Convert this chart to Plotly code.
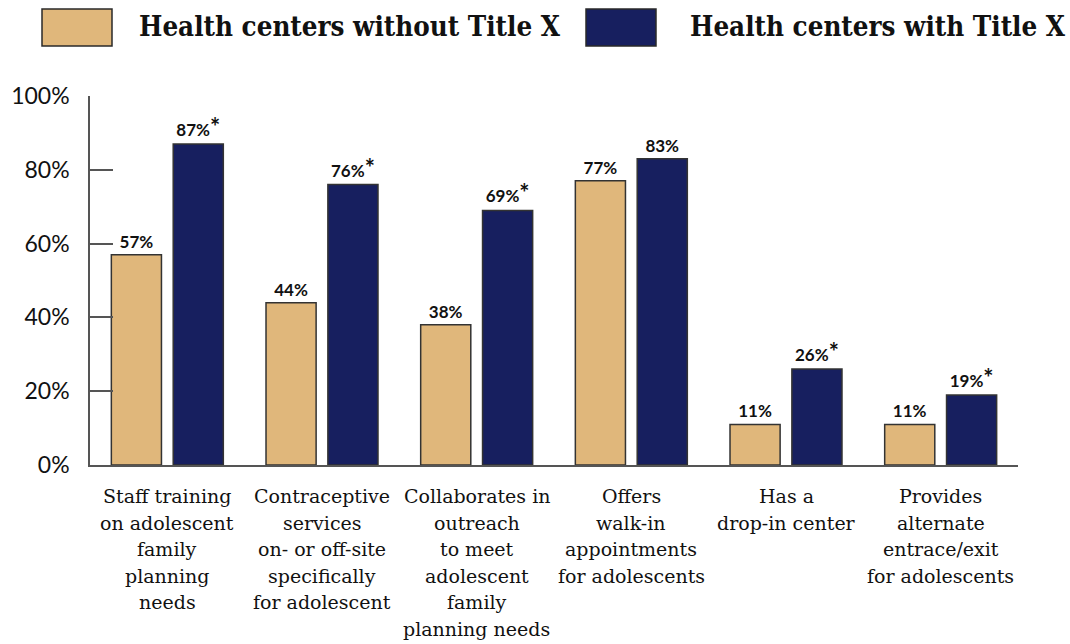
import plotly.graph_objects as go

# Data
categories = [
    "Staff training<br>on adolescent<br>family<br>planning<br>needs",
    "Contraceptive<br>services<br>on- or off-site<br>specifically<br>for adolescent",
    "Collaborates in<br>outreach<br>to meet<br>adolescent<br>family<br>planning needs",
    "Offers<br>walk-in<br>appointments<br>for adolescents",
    "Has a<br>drop-in center",
    "Provides<br>alternate<br>entrace/exit<br>for adolescents",
]
without_title_x = [57, 44, 38, 77, 11, 11]
with_title_x = [87, 76, 69, 83, 26, 19]
significant = [True, True, True, False, True, True]
series_names = ["Health centers without Title X", "Health centers with Title X"]
y_ticks = [0, 20, 40, 60, 80, 100]
y_tick_labels = ["0%", "20%", "40%", "60%", "80%", "100%"]

TAN = "#E0B77B"
NAVY = "#171F5F"
OUTLINE = "#333333"

W, H = 1070, 644
M_L, M_R, M_T, M_B = 90, 52, 96, 179
PW, PH = W - M_L - M_R, H - M_T - M_B


def px_x(x):
    return (x - M_L) / PW


def px_y(y):
    return (H - M_B - y) / PH


# significance marker: an enlarged asterisk after the value
STAR = "<span style='font-size:24px'>*</span>"


def label(v, star):
    return f"{v}%{STAR}" if star else f"{v}%"


label_font = dict(family="Lato", size=17, color="#111111", weight=700)

fig = go.Figure()
fig.add_trace(go.Bar(
    x=categories, y=without_title_x, name=series_names[0],
    marker=dict(color=TAN, line=dict(color=OUTLINE, width=1.5)),
    text=[label(v, False) for v in without_title_x],
    textposition="outside", textfont=label_font, cliponaxis=False,
))
fig.add_trace(go.Bar(
    x=categories, y=with_title_x, name=series_names[1],
    marker=dict(color=NAVY, line=dict(color=OUTLINE, width=1.5)),
    text=[label(v, s) for v, s in zip(with_title_x, significant)],
    textposition="outside", textfont=label_font, cliponaxis=False,
))

shapes = []
annotations = []

# Legend drawn as swatches and text above the plot
legend_items = [
    (42, 112, TAN, 137, series_names[0]),
    (586, 656, NAVY, 688, series_names[1]),
]
for x0, x1, col, tx, name in legend_items:
    shapes.append(dict(
        type="rect", xref="paper", yref="paper",
        x0=px_x(x0), x1=px_x(x1), y0=px_y(46), y1=px_y(9),
        fillcolor=col, line=dict(color="#2a2a2a", width=1.5),
    ))
    annotations.append(dict(
        xref="paper", yref="paper", x=px_x(tx), y=px_y(26),
        xanchor="left", yanchor="middle", showarrow=False,
        text=name,
        font=dict(family="DejaVu Serif Condensed", size=27.5, color="#111111",
                  weight="bold"),
    ))

# Category labels, one line per annotation for tighter line spacing
LINE_TOP, LINE_STEP = 496, 26.6
for cat in categories:
    for i, line in enumerate(cat.split("<br>")):
        annotations.append(dict(
            x=cat, xref="x", yref="paper", y=px_y(LINE_TOP + i * LINE_STEP),
            xanchor="center", yanchor="middle", showarrow=False,
            text=line,
            font=dict(family="DejaVu Serif", size=19, color="#111111"),
        ))

fig.update_layout(
    width=W, height=H,
    margin=dict(l=M_L, r=M_R, t=M_T, b=M_B),
    paper_bgcolor="white", plot_bgcolor="white",
    barmode="group", bargap=0.2, bargroupgap=0.19,
    showlegend=False,
    shapes=shapes, annotations=annotations,
)
fig.update_xaxes(
    range=[-0.5, 5.5], showline=True, linecolor="#555555", linewidth=1.5,
    ticks="", showgrid=False, zeroline=False, showticklabels=False,
)
fig.update_yaxes(
    range=[0, 100], tickvals=y_ticks, ticktext=y_tick_labels,
    showline=True, linecolor="#555555", linewidth=1.5,
    ticks="inside", ticklen=23, tickcolor="#555555", tickwidth=1.5,
    showgrid=False, zeroline=False,
    tickfont=dict(family="Lato", size=23, color="#111111"),
    ticklabelstandoff=14,
)

fig.write_html("out.html")
